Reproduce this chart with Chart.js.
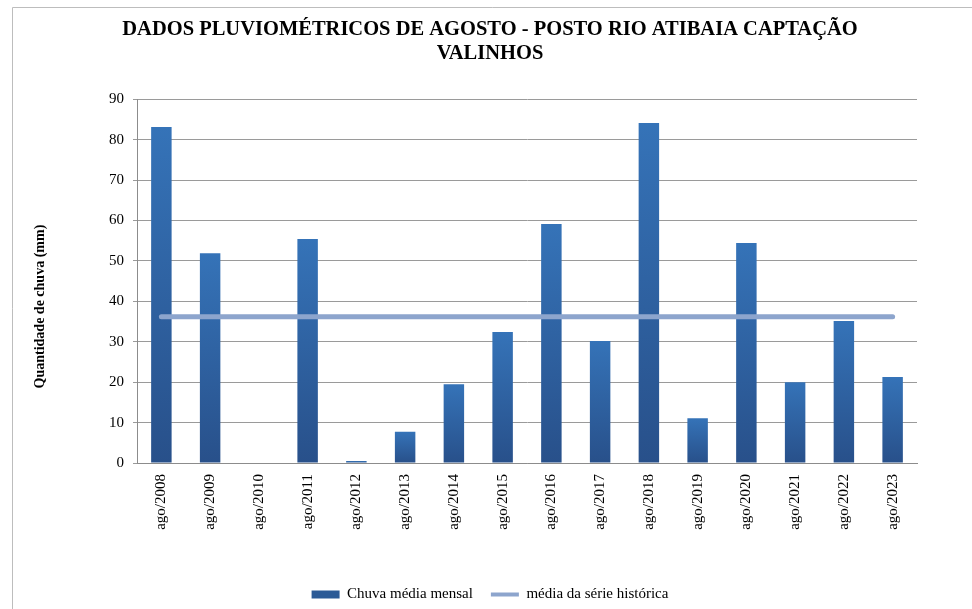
<!DOCTYPE html>
<html>
<head>
<meta charset="utf-8">
<script src="https://cdn.jsdelivr.net/npm/chart.js@4"></script>
<style>
  html, body { margin: 0; padding: 0; background: #fff; }
  #wrap { width: 972px; height: 609px; }
</style>
</head>
<body>
<div id="wrap"><canvas id="chart" width="972" height="609"></canvas></div>
<script>
// data
const categories = ['ago/2008', 'ago/2009', 'ago/2010', 'ago/2011', 'ago/2012', 'ago/2013', 'ago/2014', 'ago/2015',
  'ago/2016', 'ago/2017', 'ago/2018', 'ago/2019', 'ago/2020', 'ago/2021', 'ago/2022', 'ago/2023'];
const chuvaMensal = [83.1, 51.9, 0, 55.4, 0.5, 7.7, 19.5, 32.4, 59.1, 30.2, 84.1, 11.1, 54.4, 20.0, 35.1, 21.3];
const mediaSerie = [36.2, 36.2, 36.2, 36.2, 36.2, 36.2, 36.2, 36.2, 36.2, 36.2, 36.2, 36.2, 36.2, 36.2, 36.2, 36.2];
const yTicks = [0, 10, 20, 30, 40, 50, 60, 70, 80, 90];
const yTitle = 'Quantidade de chuva (mm)';

const FONT = "'Liberation Serif', 'Times New Roman', serif";

// vertical gradient on each bar, lighter at top
function barFill(ctx) {
  const chart = ctx.chart;
  if (!chart.chartArea || ctx.type !== 'data') return '#2D5F9E';
  const y = chart.scales.y;
  const top = y.getPixelForValue(ctx.raw);
  const bottom = y.getPixelForValue(0);
  if (bottom - top < 2) return '#2A5389';
  const g = chart.ctx.createLinearGradient(0, top, 0, bottom);
  g.addColorStop(0, '#3573B8');
  g.addColorStop(1, '#28508A');
  return g;
}

// thin frame round the chart, like the spreadsheet export
const framePlugin = {
  id: 'frame',
  beforeDraw(chart) {
    const c = chart.ctx;
    c.save();
    c.strokeStyle = '#bdbdbd';
    c.lineWidth = 1;
    c.beginPath();
    c.moveTo(12.5, 609);
    c.lineTo(12.5, 7.5);
    c.lineTo(972, 7.5);
    c.stroke();
    c.restore();
  }
};

// y axis title sits a bit below the middle of the plot in the original
const yTitlePlugin = {
  id: 'yTitle',
  afterDraw(chart) {
    const c = chart.ctx;
    const area = chart.chartArea;
    c.save();
    c.translate(40, area.top + (area.bottom - area.top) * 0.57);
    c.rotate(-Math.PI / 2);
    c.font = "bold 14px " + FONT;
    c.fillStyle = '#000';
    c.textAlign = 'center';
    c.textBaseline = 'middle';
    c.fillText(yTitle, 0, 0);
    c.restore();
  }
};

new Chart(document.getElementById('chart'), {
  data: {
    labels: categories,
    datasets: [
      {
        type: 'line',
        label: 'média da série histórica',
        data: mediaSerie,
        borderColor: '#8DA5CD',
        borderWidth: 5,
        borderCapStyle: 'round',
        pointRadius: 0,
        order: 0
      },
      {
        type: 'bar',
        label: 'Chuva média mensal',
        data: chuvaMensal,
        backgroundColor: barFill,
        borderWidth: 0,
        categoryPercentage: 0.42,
        barPercentage: 1,
        order: 1
      }
    ]
  },
  options: {
    responsive: false,
    animation: false,
    layout: { padding: { left: 8, right: 0, top: 0, bottom: -3 } },
    plugins: {
      title: {
        display: true,
        text: ['DADOS PLUVIOMÉTRICOS DE AGOSTO - POSTO RIO ATIBAIA CAPTAÇÃO', 'VALINHOS'],
        color: '#000',
        font: { family: FONT, size: 20.5, weight: 'bold', lineHeight: 1.2 },
        padding: { top: 17, bottom: 33 }
      },
      legend: {
        position: 'bottom',
        labels: {
          color: '#000',
          font: { family: FONT, size: 15 },
          usePointStyle: true,
          pointStyleWidth: 28,
          boxHeight: 8,
          padding: 18,
          generateLabels() {
            return [
              { text: 'Chuva média mensal', fillStyle: '#2B5A96', strokeStyle: '#2B5A96', lineWidth: 0, pointStyle: 'rect', datasetIndex: 1 },
              { text: 'média da série histórica', fillStyle: '#8DA5CD', strokeStyle: '#8DA5CD', lineWidth: 4, pointStyle: 'line', datasetIndex: 0 }
            ];
          }
        }
      },
      tooltip: { enabled: false }
    },
    scales: {
      x: {
        offset: true,
        grid: { display: false },
        border: { display: true, color: '#8c8c8c', width: 1 },
        ticks: {
          color: '#000',
          font: { family: FONT, size: 15 },
          minRotation: 90,
          maxRotation: 90,
          padding: 3
        },
        afterFit(scale) { scale.height = 106; }
      },
      y: {
        min: 0,
        max: 90,
        afterBuildTicks(scale) { scale.ticks = yTicks.map(v => ({ value: v })); },
        grid: { color: '#9a9a9a', lineWidth: 1, tickLength: 4 },
        border: { display: true, color: '#8c8c8c', width: 1 },
        ticks: {
          color: '#000',
          font: { family: FONT, size: 15 },
          padding: 9
        },
        afterFit(scale) { scale.width = 129; }
      },
      // empty right-hand scale, only to keep the plot clear of the right margin
      yRight: {
        position: 'right',
        display: true,
        grid: { display: false, drawTicks: false },
        border: { display: false },
        ticks: { display: false },
        afterFit(scale) { scale.width = 55; }
      }
    }
  },
  plugins: [framePlugin, yTitlePlugin]
});
</script>
</body>
</html>
